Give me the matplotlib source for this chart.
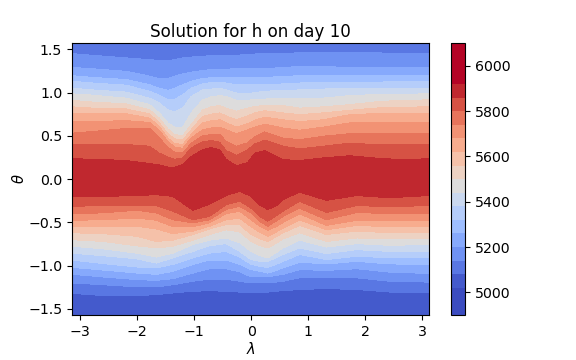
import numpy as np
import matplotlib
matplotlib.use("Agg")
import matplotlib.pyplot as plt

title = "Solution for h on day 10"
level_low, level_high = 5020, 5920
levels = [4900, 5020, 5080, 5140, 5200, 5260, 5320, 5380, 5440, 5500, 5560, 5620, 5680, 5740, 5800, 5860, 5920, 6100]
cbar_ticks = [5000, 5200, 5400, 5600, 5800, 6000]

lon_north = [-3.14, -2.78, -2.19, -1.78, -1.61, -1.46, -1.34, -1.20, -1.05, -0.85, -0.70, -0.55, -0.44, -0.26, -0.06, 0.06, 0.24, 0.56, 0.85, 1.26, 1.73, 2.14, 2.61, 3.12]
h_north = [5890, 5860, 5800, 5740, 5680, 5620, 5560, 5500, 5440, 5380, 5320, 5260, 5200, 5140, 5110]
lat_n_eq = [0.0] * 24
lat_n5860 = [.235, .23, .215, .18, .165, .14, .136, .167, .26, .34, .365, .34, .23, .155, .19, .30, .33, .225, .215, .245, .27, .245, .225, .235]
lat_n5800 = [.40, .40, .40, .38, .30, .255, .23, .245, .36, .43, .445, .425, .33, .275, .34, .405, .45, .38, .35, .38, .415, .40, .40, .40]
lat_n5740 = [.53, .55, .585, .585, .475, .37, .31, .30, .415, .50, .515, .515, .44, .38, .42, .49, .545, .475, .455, .495, .525, .53, .53, .53]
lat_n5680 = [.66, .665, .675, .655, .565, .435, .37, .355, .475, .57, .59, .60, .57, .525, .57, .60, .635, .59, .565, .60, .65, .655, .655, .655]
lat_n5620 = [.755, .755, .755, .705, .61, .475, .41, .40, .515, .65, .675, .685, .65, .60, .64, .68, .715, .685, .665, .685, .745, .755, .755, .755]
lat_n5560 = [.835, .82, .81, .755, .65, .525, .465, .45, .57, .725, .75, .765, .73, .685, .73, .765, .79, .765, .745, .765, .795, .82, .83, .835]
lat_n5500 = [.91, .89, .87, .80, .705, .58, .515, .50, .63, .80, .835, .85, .82, .785, .82, .84, .85, .85, .82, .835, .86, .89, .91, .915]
lat_n5440 = [.985, .97, .935, .86, .765, .65, .60, .60, .765, .915, .95, .965, .955, .91, .91, .92, .925, .93, .93, .935, .965, .975, .98, .985]
lat_n5380 = [1.05, 1.03, 1.005, .935, .88, .80, .775, .82, .955, 1.03, 1.04, 1.05, 1.03, .995, .985, 1.0, 1.015, 1.025, 1.03, 1.04, 1.05, 1.05, 1.05, 1.05]
lat_n5320 = [1.13, 1.11, 1.085, 1.015, .97, .92, .92, .975, 1.05, 1.10, 1.115, 1.12, 1.11, 1.09, 1.09, 1.09, 1.09, 1.10, 1.11, 1.12, 1.12, 1.12, 1.125, 1.13]
lat_n5260 = [1.195, 1.175, 1.15, 1.09, 1.05, 1.025, 1.05, 1.09, 1.13, 1.165, 1.17, 1.175, 1.175, 1.17, 1.17, 1.17, 1.175, 1.185, 1.195, 1.20, 1.20, 1.20, 1.195, 1.195]
lat_n5200 = [1.29, 1.275, 1.245, 1.19, 1.16, 1.16, 1.19, 1.215, 1.235, 1.255, 1.265, 1.27, 1.27, 1.275, 1.275, 1.275, 1.275, 1.29, 1.30, 1.30, 1.29, 1.29, 1.29, 1.29]
lat_n5140 = [1.45, 1.43, 1.40, 1.38, 1.37, 1.37, 1.38, 1.40, 1.41, 1.42, 1.425, 1.43, 1.43, 1.43, 1.44, 1.445, 1.45, 1.45, 1.46, 1.46, 1.46, 1.46, 1.45, 1.45]
lat_n_top = [1.57] * 24

lon_south = [-3.14, -2.60, -2.01, -1.66, -1.37, -1.02, -0.73, -0.44, -0.20, 0.0, 0.15, 0.29, 0.43, 0.56, 0.85, 1.32, 1.85, 2.43, 3.12]
h_south = [5890, 5860, 5800, 5740, 5680, 5620, 5560, 5500, 5440, 5380, 5320, 5260, 5200, 5140, 5080, 5050]
lat_s_eq = [0.0] * 19
lat_s5860 = [-.20, -.20, -.19, -.18, -.20, -.36, -.29, -.19, -.14, -.20, -.30, -.35, -.314, -.235, -.15, -.245, -.19, -.215, -.19]
lat_s5800 = [-.315, -.305, -.30, -.305, -.37, -.47, -.43, -.295, -.255, -.335, -.429, -.485, -.429, -.37, -.255, -.385, -.305, -.32, -.305]
lat_s5740 = [-.40, -.39, -.36, -.39, -.47, -.505, -.47, -.35, -.315, -.39, -.487, -.545, -.487, -.43, -.335, -.47, -.385, -.40, -.40]
lat_s5680 = [-.475, -.47, -.45, -.475, -.55, -.55, -.505, -.40, -.37, -.47, -.545, -.59, -.552, -.50, -.40, -.535, -.475, -.475, -.475]
lat_s5620 = [-.55, -.55, -.545, -.575, -.63, -.60, -.545, -.47, -.45, -.55, -.614, -.66, -.614, -.565, -.47, -.585, -.535, -.55, -.545]
lat_s5560 = [-.62, -.63, -.66, -.72, -.705, -.64, -.575, -.525, -.525, -.64, -.69, -.72, -.67, -.62, -.535, -.64, -.60, -.62, -.615]
lat_s5500 = [-.70, -.72, -.77, -.795, -.775, -.705, -.64, -.585, -.61, -.72, -.768, -.795, -.745, -.69, -.62, -.72, -.68, -.69, -.685]
lat_s5440 = [-.775, -.805, -.855, -.90, -.855, -.755, -.705, -.68, -.735, -.835, -.883, -.91, -.853, -.795, -.705, -.785, -.745, -.765, -.755]
lat_s5380 = [-.855, -.885, -.92, -.97, -.91, -.835, -.77, -.745, -.835, -.93, -.949, -.95, -.91, -.87, -.795, -.86, -.815, -.835, -.835]
lat_s5320 = [-.935, -.975, -1.015, -1.025, -.985, -.91, -.855, -.835, -.90, -.985, -1.007, -1.02, -.987, -.95, -.87, -.93, -.89, -.91, -.91]
lat_s5260 = [-1.02, -1.05, -1.085, -1.10, -1.065, -.985, -.935, -.935, -.985, -1.045, -1.064, -1.085, -1.057, -1.025, -.96, -.98, -.95, -.98, -.985]
lat_s5200 = [-1.10, -1.13, -1.16, -1.17, -1.15, -1.085, -1.035, -1.035, -1.07, -1.13, -1.13, -1.13, -1.114, -1.10, -1.045, -1.055, -1.035, -1.075, -1.09]
lat_s5140 = [-1.20, -1.22, -1.245, -1.245, -1.22, -1.18, -1.155, -1.155, -1.18, -1.20, -1.20, -1.20, -1.19, -1.18, -1.14, -1.14, -1.14, -1.18, -1.19]
lat_s5080 = [-1.32, -1.345, -1.345, -1.335, -1.315, -1.295, -1.29, -1.295, -1.305, -1.305, -1.305, -1.305, -1.295, -1.29, -1.275, -1.265, -1.275, -1.305, -1.315]
lat_s_bot = [-1.57] * 19

lat_north = np.array([lat_n_eq, lat_n5860, lat_n5800, lat_n5740, lat_n5680, lat_n5620, lat_n5560, lat_n5500,
                      lat_n5440, lat_n5380, lat_n5320, lat_n5260, lat_n5200, lat_n5140, lat_n_top])
lat_south = np.array([lat_s_eq, lat_s5860, lat_s5800, lat_s5740, lat_s5680, lat_s5620, lat_s5560, lat_s5500,
                      lat_s5440, lat_s5380, lat_s5320, lat_s5260, lat_s5200, lat_s5140, lat_s5080, lat_s_bot])

cmap = plt.get_cmap('coolwarm')
mids = [(a + b) / 2 for a, b in zip(levels[:-1], levels[1:])]
band_colors = [cmap(float(np.clip((m - level_low) / (level_high - level_low), 0, 1))) for m in mids]

fig, ax = plt.subplots(figsize=(5.76, 3.6), dpi=100)
fig.subplots_adjust(bottom=0.125)

X_n = np.tile(lon_north, (len(h_north), 1))
Z_n = np.tile(np.array(h_north)[:, None], (1, len(lon_north)))
X_s = np.tile(lon_south, (len(h_south), 1))
Z_s = np.tile(np.array(h_south)[:, None], (1, len(lon_south)))

cs = ax.contourf(X_n, lat_north, Z_n, levels=levels, colors=band_colors)
ax.contourf(X_s, lat_south, Z_s, levels=levels, colors=band_colors)

ax.set_xlim(-3.14, 3.12)
ax.set_ylim(-1.57, 1.57)
ax.set_xticks([-3, -2, -1, 0, 1, 2, 3])
ax.set_yticks([-1.5, -1.0, -0.5, 0.0, 0.5, 1.0, 1.5])
ax.tick_params(labelsize=10.2)
ax.set_xlabel(r'$\lambda$', labelpad=1.5, fontsize=10.5)
ax.set_ylabel(r'$\theta$', labelpad=1, fontsize=10.5)
ax.set_title(title, pad=4.5, fontsize=12.1)

cb = fig.colorbar(cs, ax=ax, spacing='proportional', ticks=cbar_ticks)
cb.ax.tick_params(labelsize=10.2)

fig.savefig('out.png', dpi=100)
